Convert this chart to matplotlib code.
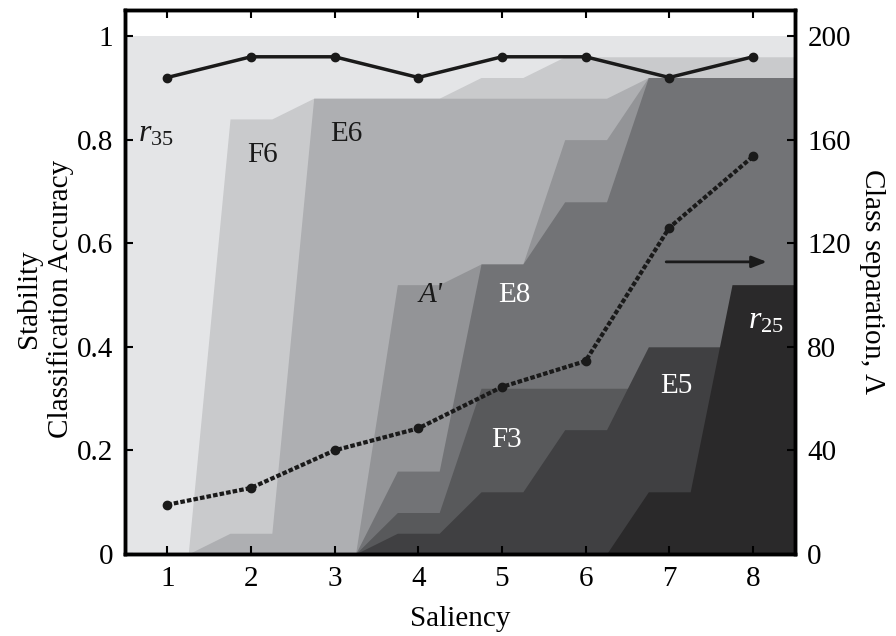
import matplotlib
matplotlib.use('Agg')
import matplotlib.pyplot as plt
import numpy as np

plt.rcParams['font.family'] = ['Liberation Serif', 'DejaVu Serif']
plt.rcParams['mathtext.fontset'] = 'custom'
plt.rcParams['mathtext.rm'] = 'Liberation Serif'
plt.rcParams['mathtext.it'] = 'Liberation Serif:italic'

# saliency levels
saliency = [1, 2, 3, 4, 5, 6, 7, 8]

# stability of each feature (drawn lightest first)
r35 = [1.00, 1.00, 1.00, 1.00, 1.00, 1.00, 1.00, 1.00]
f6 = [0.00, 0.84, 0.88, 0.88, 0.92, 0.96, 0.96, 0.96]
e6 = [0.00, 0.04, 0.88, 0.88, 0.88, 0.88, 0.92, 0.92]
a_prime = [0.00, 0.00, 0.00, 0.52, 0.56, 0.80, 0.92, 0.92]
e8 = [0.00, 0.00, 0.00, 0.16, 0.56, 0.68, 0.92, 0.92]
f3 = [0.00, 0.00, 0.00, 0.08, 0.32, 0.32, 0.32, 0.32]
e5 = [0.00, 0.00, 0.00, 0.04, 0.12, 0.24, 0.40, 0.40]
r25 = [0.00, 0.00, 0.00, 0.00, 0.00, 0.00, 0.12, 0.52]

layers = [r35, f6, e6, a_prime, e8, f3, e5, r25]
layer_colors = ['#e4e5e7', '#c9cacc', '#aeafb2', '#939497',
                '#727376', '#58595b', '#404042', '#2a292a']

# classification accuracy (left axis) and class separation (right axis)
accuracy = [0.92, 0.96, 0.96, 0.92, 0.96, 0.96, 0.92, 0.96]
separation = [19, 25.5, 40, 48.5, 64.5, 74.5, 126, 153.5]


def step_shape(vals):
    # value held flat around each saliency level, linear ramps in between
    s = np.asarray(saliency, dtype=float)
    xs = np.column_stack([s - 0.25, s + 0.25]).ravel()
    xs[0] = 0.5
    xs[-1] = 8.5
    return xs, np.repeat(vals, 2)


fig = plt.figure(figsize=(8.96, 6.36), dpi=100)
ax = fig.add_axes([0.14, 0.129, 0.747, 0.855])

for vals, c in zip(layers, layer_colors):
    xs, ys = step_shape(vals)
    ax.fill_between(xs, 0, ys, color=c, linewidth=0, zorder=1)

ax.plot(saliency, accuracy, '-', color='#1a1a1a', lw=2.5, marker='o', ms=6, zorder=5)

ax.set_xlim(0.5, 8.5)
ax.set_ylim(0, 1.05)
ax.set_xticks(saliency)
ax.set_yticks([0, 0.2, 0.4, 0.6, 0.8, 1])
ax.set_yticklabels(['0', '0.2', '0.4', '0.6', '0.8', '1'])
ax.tick_params(direction='in', length=6, width=1.5, labelsize=21, top=True, pad=9)
for sp in ax.spines.values():
    sp.set_linewidth(2.5)
ax.set_xlabel('Saliency', fontsize=21, labelpad=10)
ax.set_ylabel('Stability\nClassification Accuracy', fontsize=21, labelpad=2,
              linespacing=1.25)
ax.yaxis.label.set_y(0.47)

ax2 = ax.twinx()
ax2.plot(saliency, separation, linestyle=(0, (1.1, 0.5)), color='#1a1a1a', lw=3,
         marker='o', ms=6, zorder=5)
ax2.set_ylim(0, 210)
ax2.set_yticks([0, 40, 80, 120, 160, 200])
ax2.tick_params(direction='in', length=6, width=1.5, labelsize=21, pad=9)
for sp in ax2.spines.values():
    sp.set_linewidth(2.5)
ax2.set_ylabel('Class separation, $\\Lambda$', fontsize=21, rotation=270, labelpad=26)

# region labels
ax.text(0.86, 0.81, '$r_{35}$', fontsize=23, ha='center', va='center', color='#1a1a1a')
ax.text(2.14, 0.77, 'F6', fontsize=21, ha='center', va='center', color='#1a1a1a')
ax.text(3.14, 0.81, 'E6', fontsize=21, ha='center', va='center', color='#1a1a1a')
ax.text(4.15, 0.50, "A'", fontsize=21, style='italic', ha='center', va='center', color='#1a1a1a')
ax.text(5.15, 0.50, 'E8', fontsize=21, ha='center', va='center', color='white')
ax.text(5.05, 0.22, 'F3', fontsize=21, ha='center', va='center', color='white')
ax.text(7.09, 0.325, 'E5', fontsize=21, ha='center', va='center', color='white')
ax.text(8.16, 0.45, '$r_{25}$', fontsize=23, ha='center', va='center', color='white')

ax.annotate('', xy=(8.2, 0.564), xytext=(6.93, 0.564),
            arrowprops=dict(arrowstyle='-|>,head_length=0.9,head_width=0.35',
                            color='#1a1a1a', lw=2), zorder=6)

fig.savefig('out.png', dpi=100)
